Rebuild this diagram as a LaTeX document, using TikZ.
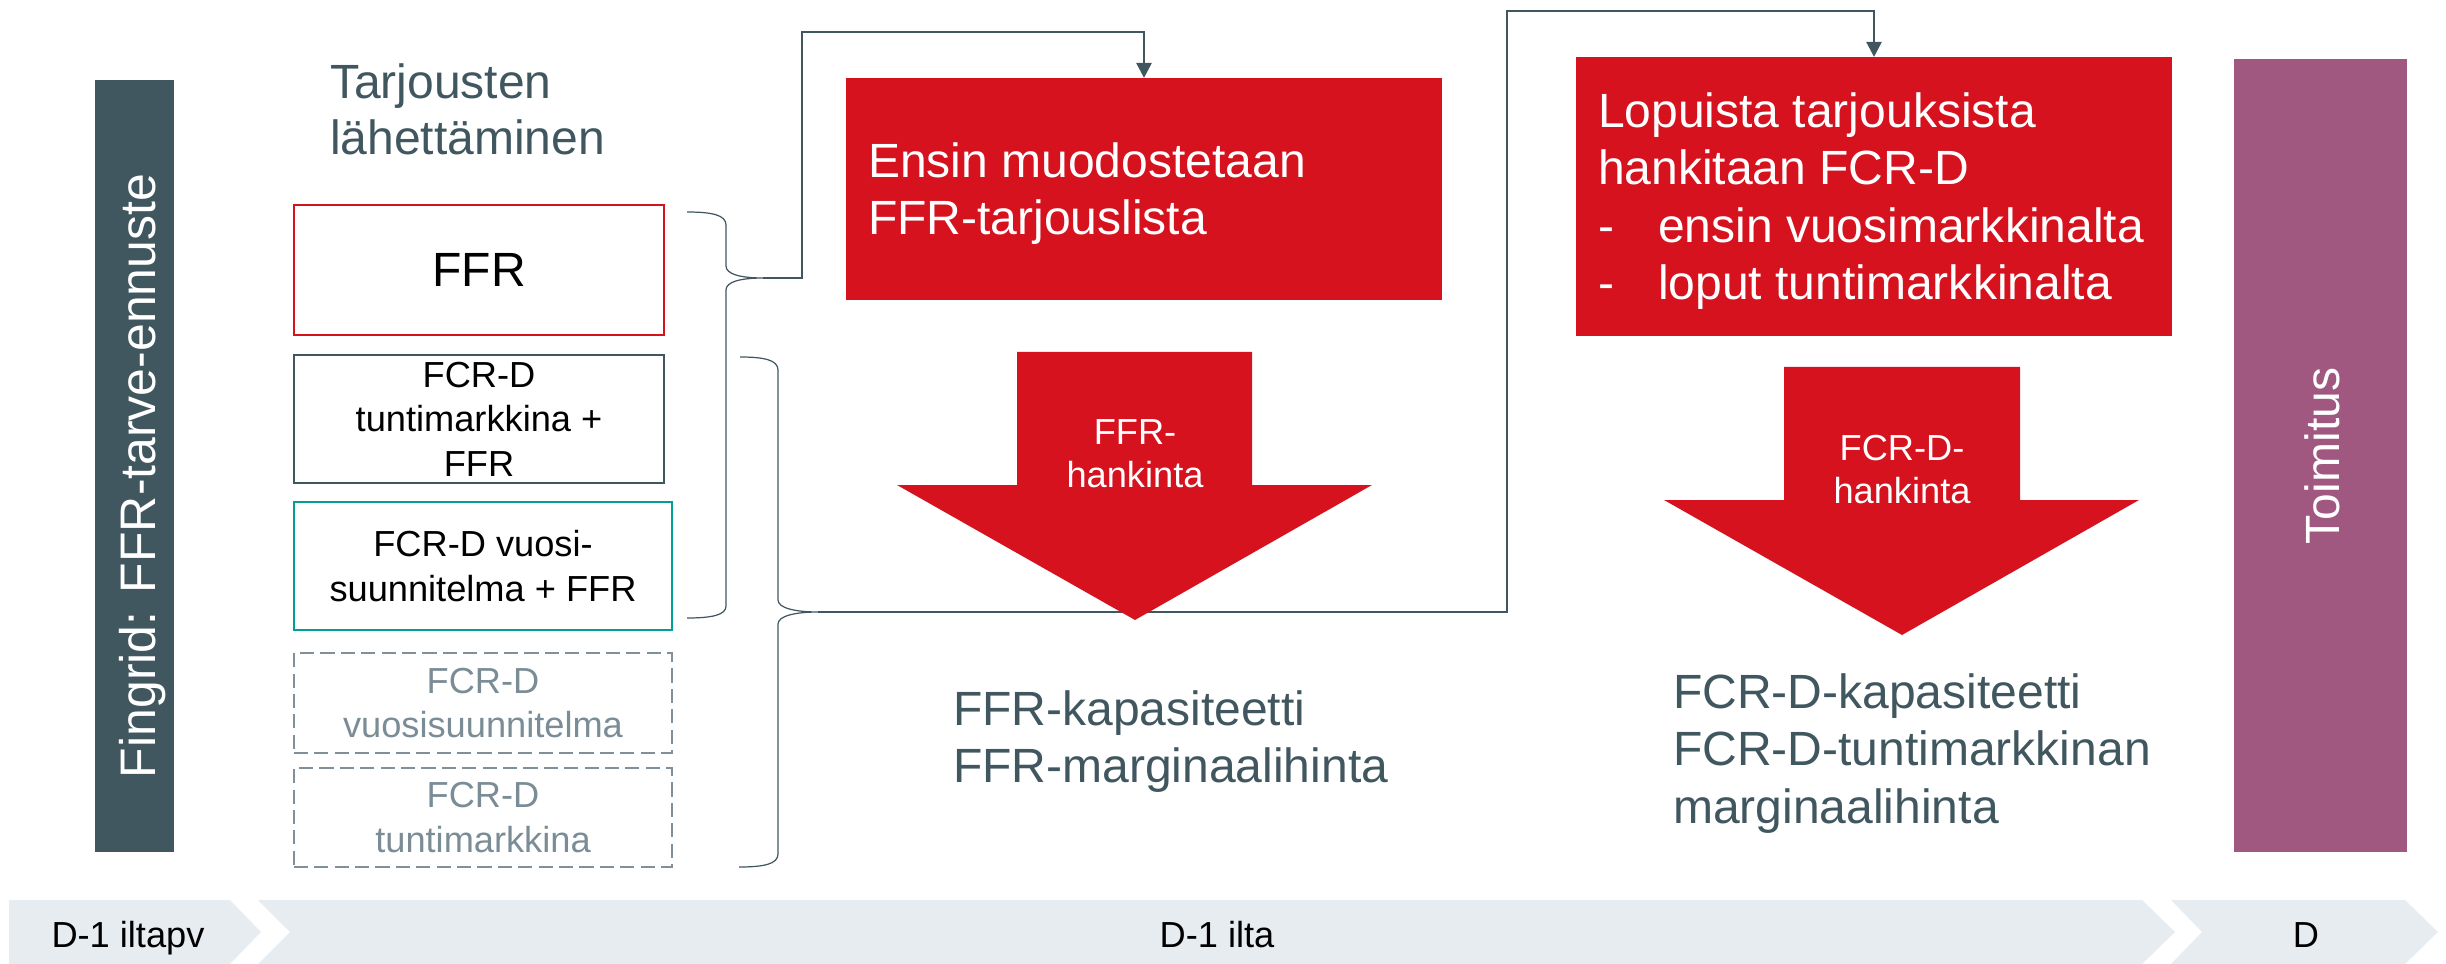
\documentclass[tikz,border=0pt]{standalone}
\usepackage{fontspec}
\setmainfont{Liberation Sans}
\usetikzlibrary{arrows.meta}

\definecolor{slate}{RGB}{65,87,96}
\definecolor{fgred}{RGB}{213,18,30}
\definecolor{plum}{RGB}{160,88,128}
\definecolor{tealline}{RGB}{0,160,152}
\definecolor{greyline}{RGB}{128,143,152}
\definecolor{greytext}{RGB}{122,140,150}
\definecolor{bandfill}{RGB}{231,236,240}

\newcommand\fbig{\fontsize{13.66pt}{16.2pt}\selectfont}
\newcommand\fbar{\fontsize{14.2pt}{17pt}\selectfont}
\newcommand\fsmall{\fontsize{10.3pt}{12.66pt}\selectfont}

\begin{document}
\begin{tikzpicture}[x=0.01cm,y=-0.01cm,
  every node/.style={inner sep=0pt,outer sep=0pt},
  lbl/.style={font=\fbig,text=slate,anchor=base west},
  wlbl/.style={font=\fbig,text=white,anchor=base west},
  arrlbl/.style={font=\fsmall,text=white,anchor=base},
  offer/.style={draw,line width=0.6pt,align=center,font=\fsmall,text=black},
  ghost/.style={offer,draw=greyline,text=greytext,dash pattern=on 4pt off 1.8pt},
  redbox/.style={fill=fgred,draw=none},
  conn/.style={draw=slate,line width=0.77pt},
  brc/.style={draw=slate,line width=0.35pt},
  bandshape/.style={fill=bandfill,draw=none},
  bandtxt/.style={font=\fsmall,text=black,anchor=base},
  sidebar/.style={draw=none},
  sidetxt/.style={rotate=90,anchor=base,font=\fbar,text=white}]

\useasboundingbox (0,0) rectangle (2446,964);

% side bars
\node[sidebar,fill=slate,minimum width=0.79cm,minimum height=7.72cm] (fcbar) at (134.5,466) {};
\node[sidetxt] (fctxt) at (155,476) {Fingrid: FFR-tarve-ennuste};
\node[sidebar,fill=plum,minimum width=1.73cm,minimum height=7.93cm] (delbar) at (2320.5,455.5) {};
\node[sidetxt,font=\fbig] (deltxt) at (2339,456) {Toimitus};

% heading of the offer column
\node[lbl] (tar1) at (330,99) {Tarjousten};
\node[lbl] (tar2) at (330,155) {lähettäminen};

% offer boxes
\node[offer,draw=fgred,font=\fbig,minimum width=3.70cm,minimum height=1.30cm] (ffr) at (479,270) {FFR};
\node[offer,draw=slate,minimum width=3.70cm,minimum height=1.28cm] (fcrh) at (479,419) {FCR-D\\tuntimarkkina +\\FFR};
\node[offer,draw=tealline,minimum width=3.78cm,minimum height=1.28cm] (fcry) at (483,566) {FCR-D vuosi-\\suunnitelma + FFR};
\node[ghost,minimum width=3.78cm,minimum height=1.00cm] (gy) at (483,703) {FCR-D\\vuosisuunnitelma};
\node[ghost,minimum width=3.78cm,minimum height=0.99cm] (gh) at (483,817.5) {FCR-D\\tuntimarkkina};

% braces grouping the offers
\draw[brc] (687,212) .. controls (712,212) and (726,215) .. (726,225) -- (726,266)
  .. controls (726,274) and (740,278) .. (763,278)
  .. controls (740,278) and (726,282) .. (726,290) -- (726,606)
  .. controls (726,615) and (712,618) .. (687,618);
\coordinate (b1tip) at (763,278);
\draw[brc] (740,357) .. controls (764,357) and (778,360) .. (778,370) -- (778,600)
  .. controls (778,608) and (795,612) .. (818,612)
  .. controls (795,612) and (778,616) .. (778,624) -- (778,854)
  .. controls (778,864) and (764,867) .. (739,867);
\coordinate (b2tip) at (818,612);

% process boxes
\node[redbox,minimum width=5.96cm,minimum height=2.22cm] (redA) at (1144,189) {};
\node[wlbl] (ra1) at (868,178) {Ensin muodostetaan};
\node[wlbl] (ra2) at (868,235) {FFR-tarjouslista};

\node[redbox,minimum width=5.96cm,minimum height=2.79cm] (redB) at (1874,196.5) {};
\node[wlbl] (rb1) at (1598,128) {Lopuista tarjouksista};
\node[wlbl] (rb2) at (1598,185) {hankitaan FCR-D};
\node[wlbl] (rb3d) at (1598,243) {-};
\node[wlbl] (rb3) at (1658,243) {ensin vuosimarkkinalta};
\node[wlbl] (rb4d) at (1598,300) {-};
\node[wlbl] (rb4) at (1658,300) {loput tuntimarkkinalta};

% connectors from the braces to the process boxes
\coordinate (c1) at (802,32);
\coordinate (c2) at (1507,11);
\draw[conn,-{Triangle[length=4.3pt,width=4.3pt]}] (b1tip) -| (c1) -| (redA.north);
\draw[conn,-{Triangle[length=4.3pt,width=4.3pt]}] (b2tip) -| (c2) -| (redB.north);

% procurement arrows
\fill[fgred] (1017,352) -- (1252,352) -- (1252,485) -- (1372,485) -- (1135,620)
  -- (897,485) -- (1017,485) -- cycle;
\node[arrlbl] (pa1) at (1135,445) {FFR-};
\node[arrlbl] (pa2) at (1135,488) {hankinta};
\fill[fgred] (1784,367) -- (2020,367) -- (2020,500) -- (2139,500) -- (1902,635)
  -- (1664,500) -- (1784,500) -- cycle;
\node[arrlbl] (pb1) at (1902,460) {FCR-D-};
\node[arrlbl] (pb2) at (1902,503) {hankinta};

% results
\node[lbl] (res1) at (953,725) {FFR-kapasiteetti};
\node[lbl] (res2) at (953,782) {FFR-marginaalihinta};
\node[lbl] (res3) at (1673,708) {FCR-D-kapasiteetti};
\node[lbl] (res4) at (1673,765) {FCR-D-tuntimarkkinan};
\node[lbl] (res5) at (1673,823) {marginaalihinta};

% timeline
\fill[bandshape] (9,900) -- (230,900) -- (261,932) -- (230,964) -- (9,964) -- cycle;
\fill[bandshape] (258,900) -- (2142,900) -- (2175,932) -- (2142,964) -- (258,964) -- (290,932) -- cycle;
\fill[bandshape] (2171,900) -- (2405,900) -- (2438,932) -- (2405,964) -- (2171,964) -- (2202,932) -- cycle;
\node[bandtxt] (t1) at (128,947) {D-1 iltapv};
\node[bandtxt] (t2) at (1217,947) {D-1 ilta};
\node[bandtxt] (t3) at (2306,947) {D};
\end{tikzpicture}
\end{document}
